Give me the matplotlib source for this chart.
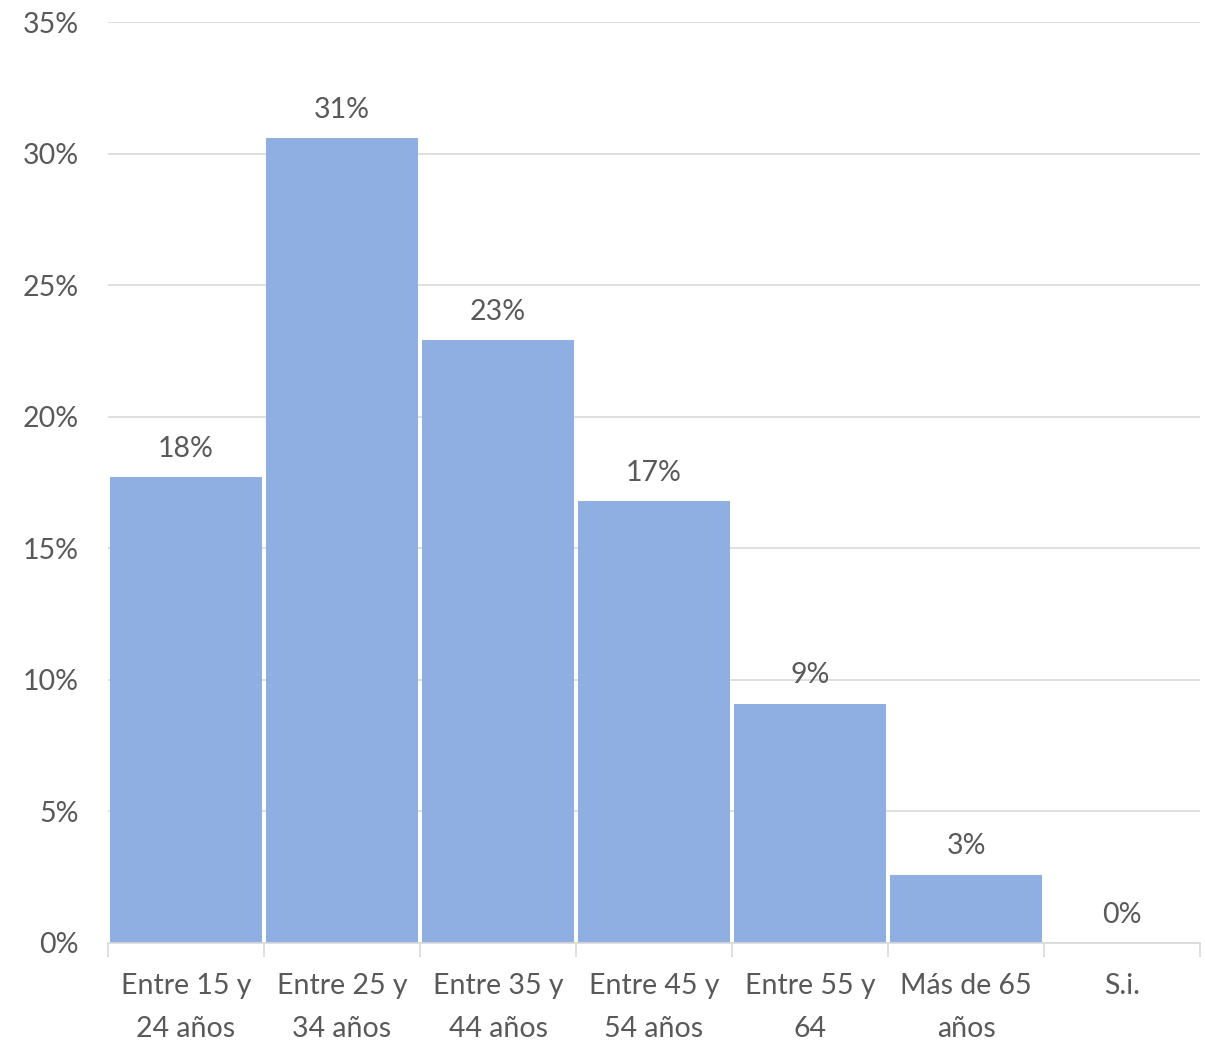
import matplotlib.pyplot as plt
from matplotlib.ticker import FixedLocator, FuncFormatter

categories = ["Entre 15 y\n24 años", "Entre 25 y\n34 años", "Entre 35 y\n44 años",
              "Entre 45 y\n54 años", "Entre 55 y\n64", "Más de 65\naños", "S.i."]
values = [17.7, 30.6, 22.9, 16.8, 9.1, 2.6, 0.0]
yticks = [0, 5, 10, 15, 20, 25, 30, 35]

bar_color = "#8FAFE3"
grid_color = "#D9D9D9"
text_color = "#595959"

plt.rcParams["font.family"] = ["Lato", "DejaVu Sans"]
fs = 20.5

fig = plt.figure(figsize=(12.05, 10.4), dpi=100)
ax = fig.add_axes([0.0896, 0.0933, 0.9063, 0.8855])

x = list(range(len(categories)))
bars = ax.bar(x, values, width=0.975, color=bar_color, zorder=2)

for xi, v in zip(x, values):
    ax.annotate(f"{v:.0f}%", (xi, v), xytext=(0, 11), textcoords="offset points",
                ha="center", va="bottom", fontsize=fs, color=text_color)

ax.set_xlim(-0.5, len(categories) - 0.5)
ax.set_ylim(0, 35)
ax.set_yticks(yticks)
ax.yaxis.set_major_formatter(FuncFormatter(lambda v, p: f"{v:.0f}%"))
ax.grid(axis="y", color=grid_color, linewidth=1.2, zorder=0)

ax.set_xticks(x)
ax.set_xticklabels(categories)
ax.xaxis.set_minor_locator(FixedLocator([i - 0.5 for i in range(len(categories) + 1)]))
ax.tick_params(axis="x", which="major", length=0, pad=21.5, labelsize=fs, labelcolor=text_color)
ax.tick_params(axis="x", which="minor", length=10, width=1.2, color=grid_color)
ax.tick_params(axis="y", length=0, pad=21, labelsize=fs, labelcolor=text_color)
plt.setp(ax.get_xticklabels(), linespacing=1.8)

for side in ["top", "right", "left"]:
    ax.spines[side].set_visible(False)
ax.spines["bottom"].set_color(grid_color)
ax.spines["bottom"].set_linewidth(1.2)
ax.spines["bottom"].set_zorder(3)

fig.savefig("out.png", dpi=100)
